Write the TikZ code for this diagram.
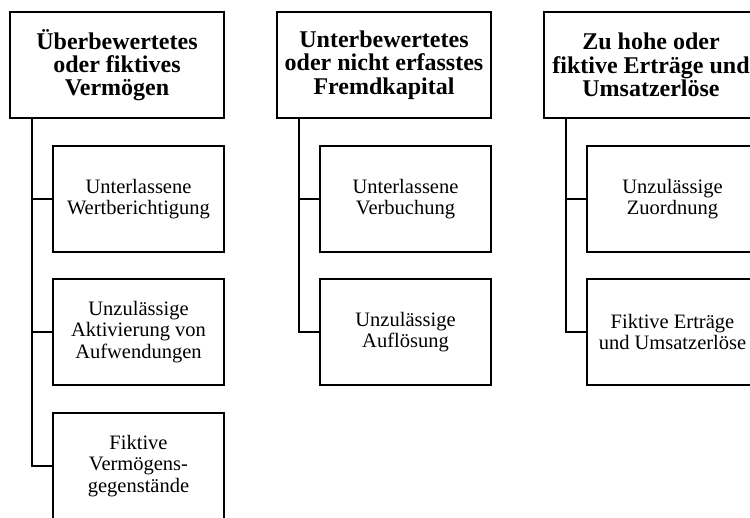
\documentclass[tikz,border=0pt]{standalone}
\usepackage{fontspec}
\setmainfont{Liberation Serif}
\usetikzlibrary{positioning}

\begin{document}
\begin{tikzpicture}[x=1pt,y=-1pt,line width=2.2pt,
	headbox/.style={draw, rectangle, outer sep=0pt, inner sep=0pt, minimum width=214pt, minimum height=106pt, align=center, font=\fontsize{24}{23.3}\selectfont\bfseries},
	subbox/.style={draw, rectangle, outer sep=0pt, inner sep=0pt, minimum width=171pt, minimum height=106pt, align=center, font=\fontsize{20.5}{21.7}\selectfont},
	node distance=27pt]
	\clip (0,0) rectangle (750,517);
	% Headers %
	\node (head1) [headbox] at (117,65) {Überbewertetes\\oder fiktives\\Vermögen};
	\node (head2) [headbox] at (384,65) {Unterbewertetes\\oder nicht erfasstes\\Fremdkapital};
	\node (head3) [headbox] at (651,65) {Zu hohe oder\\fiktive Erträge und\\Umsatzerlöse};
	% Column 1 %
	\node (sub11) [subbox] at (138.5,199) {Unterlassene\\Wertberichtigung};
	\node (sub12) [subbox, below=of sub11] {Unzulässige\\Aktivierung von\\Aufwendungen};
	\node (sub13) [subbox, below=28pt of sub12] {Fiktive\\Vermögens-\\gegenstände};
	% Column 2 %
	\node (sub21) [subbox] at (405.5,199) {Unterlassene\\Verbuchung};
	\node (sub22) [subbox, below=of sub21] {Unzulässige\\Auflösung};
	% Column 3 %
	\node (sub31) [subbox] at (672.5,199) {Unzulässige\\Zuordnung};
	\node (sub32) [subbox, below=of sub31] {Fiktive Erträge\\und Umsatzerlöse};
	% Connectors %
	\coordinate (trunk1) at ([xshift=22pt]head1.south west);
	\coordinate (trunk2) at ([xshift=22pt]head2.south west);
	\coordinate (trunk3) at ([xshift=22pt]head3.south west);
	\draw (trunk1) |- (sub11.west);
	\draw (trunk1) |- (sub12.west);
	\draw (trunk1) |- (sub13.west);
	\draw (trunk2) |- (sub21.west);
	\draw (trunk2) |- (sub22.west);
	\draw (trunk3) |- (sub31.west);
	\draw (trunk3) |- (sub32.west);
\end{tikzpicture}
\end{document}
